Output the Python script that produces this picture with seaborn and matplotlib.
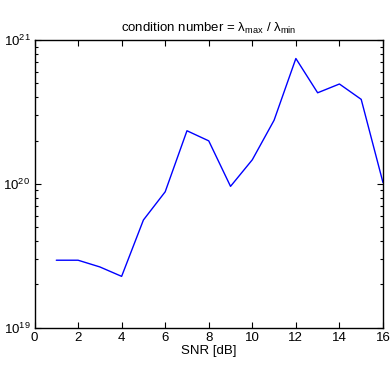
import numpy as np
import pandas as pd
import matplotlib
matplotlib.use("Agg")
import matplotlib.pyplot as plt
import seaborn as sns

snr_db = [1, 2, 3, 4, 5, 6, 7, 8, 9, 10, 11, 12, 13, 14, 15, 16]
cond_number = [2.94e19, 2.94e19, 2.64e19, 2.27e19, 5.6e19, 8.8e19, 2.34e20, 1.99e20,
               9.6e19, 1.47e20, 2.77e20, 7.45e20, 4.3e20, 4.95e20, 3.87e20, 1.02e20]
x_ticks = [0, 2, 4, 6, 8, 10, 12, 14, 16]

sns.set_style("white")
plt.rcParams['font.family'] = ['Liberation Sans', 'DejaVu Sans']
plt.rcParams['mathtext.fontset'] = 'custom'
plt.rcParams['mathtext.rm'] = 'Liberation Sans'
plt.rcParams['mathtext.it'] = 'Liberation Sans:italic'
plt.rcParams['mathtext.default'] = 'regular'
plt.rcParams['text.color'] = 'black'
plt.rcParams['axes.labelcolor'] = 'black'
plt.rcParams['xtick.color'] = 'black'
plt.rcParams['ytick.color'] = 'black'

df = pd.DataFrame({"snr": snr_db, "cond": cond_number})

fig = plt.figure(figsize=(3.9, 3.68), dpi=100)
ax = fig.add_axes([0.0885, 0.110, 0.8935, 0.781])
sns.lineplot(data=df, x="snr", y="cond", ax=ax, color="#0000ff", linewidth=1.0)
ax.set_yscale("log")
ax.set_xlim(0, 16)
ax.set_ylim(1e19, 1e21)
ax.set_xticks(x_ticks)
ax.set_xticklabels([str(t) for t in x_ticks])
ax.set_xlabel("SNR [dB]", fontsize=9.5, labelpad=1)
ax.set_ylabel("")
ax.set_title(r"condition number = $\lambda_{max}$ / $\lambda_{min}$", fontsize=9.5, pad=6)
ax.tick_params(which="both", direction="in", top=True, right=True, bottom=True, left=True,
               labelsize=9.5, pad=3, color="black", labelcolor="black")
ax.tick_params(which="major", length=4, width=0.8)
ax.tick_params(which="minor", length=2.5, width=0.8)
for s in ax.spines.values():
    s.set_linewidth(1.0)
    s.set_color("black")
fig.savefig("out.png", dpi=100)
